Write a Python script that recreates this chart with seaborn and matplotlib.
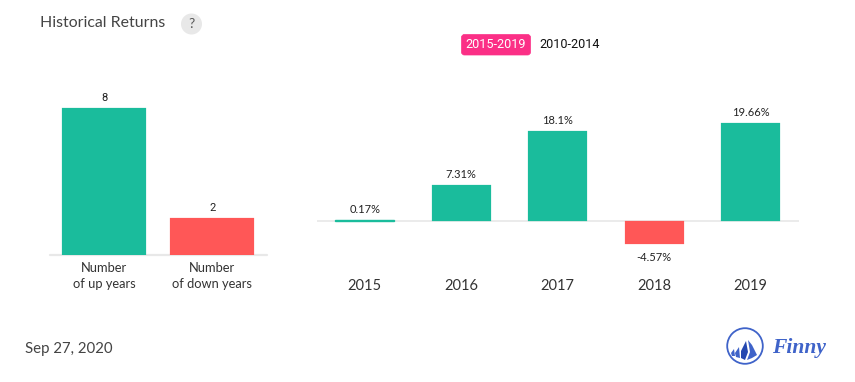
import matplotlib
matplotlib.use("Agg")
import matplotlib.pyplot as plt
import seaborn as sns
import pandas as pd
from matplotlib.patches import Circle, FancyBboxPatch, Polygon

W, H = 855, 382
GREEN = "#1abc9c"
RED = "#ff5757"
updown_labels = ["Number\nof up years", "Number\nof down years"]
updown_values = [8, 2]
years = ["2015", "2016", "2017", "2018", "2019"]
returns = [0.17, 7.31, 18.1, -4.57, 19.66]
return_labels = ["0.17%", "7.31%", "18.1%", "-4.57%", "19.66%"]
title = "Historical Returns"
date_label = "Sep 27, 2020"
brand = "Finny"
range_active = "2015-2019"
range_other = "2010-2014"

sns.set_theme(style="white")
plt.rcParams["font.family"] = ["Lato", "DejaVu Sans"]
fig = plt.figure(figsize=(W / 100, H / 100), dpi=100, facecolor="white")


def px_axes(x0, y0, x1, y1):
    return fig.add_axes([x0 / W, 1 - y1 / H, (x1 - x0) / W, (y1 - y0) / H])


def style(ax):
    ax.set_xlabel("")
    ax.set_ylabel("")
    ax.set_yticks([])
    for s in ["top", "left", "right", "bottom"]:
        ax.spines[s].set_visible(False)
    ax.patch.set_alpha(0)
    ax.tick_params(axis="x", length=0)
    for p in ax.patches:
        p.set_edgecolor(p.get_facecolor())
        p.set_linewidth(0.15)


# Left panel
ax1 = px_axes(50, 95, 266.5, 255)
df1 = pd.DataFrame({"label": updown_labels, "value": updown_values})
sns.barplot(data=df1, x="label", y="value", hue="label", dodge=False, legend=False,
            palette=[GREEN, RED], width=0.778, saturation=1, ax=ax1, zorder=3)
ax1.set_xlim(-0.5, 1.5)
ax1.set_ylim(0, 160 / 18.4)
style(ax1)
ax1.axhline(0, color="#e8e8e8", lw=1.6, zorder=2, clip_on=False)
ax1.tick_params(axis="x", pad=5.3, labelsize=9.3, labelcolor="#333333")
for lab in ax1.get_xticklabels():
    lab.set_linespacing(1.4)
for i, v in enumerate(updown_values):
    ax1.annotate(str(v), (i, v), xytext=(0, 3.6), textcoords="offset points", ha="center",
                 va="bottom", fontsize=8, color="#222222", family=["Roboto", "DejaVu Sans"])

# Right panel
ax2 = px_axes(316.5, 95, 799, 275)
df2 = pd.DataFrame({"year": years, "value": returns})
sns.barplot(data=df2, x="year", y="value", hue="year", dodge=False, legend=False,
            palette=[GREEN if v >= 0 else RED for v in returns], width=0.61,
            saturation=1, ax=ax2, zorder=3)
ax2.set_xlim(-0.5, 4.5)
ax2.set_ylim(-54 / 4.98, 126 / 4.98)
style(ax2)
ax2.patches[0].set_linewidth(1.0)
ax2.axhline(0, color="#e8e8e8", lw=1.2, zorder=2)
ax2.tick_params(axis="x", pad=2.7, labelsize=10.5, labelcolor="#333333")
for i, (v, t) in enumerate(zip(returns, return_labels)):
    off = 3.6 if v >= 0 else -5.6
    ax2.annotate(t, (i, v), xytext=(0, off), textcoords="offset points", ha="center",
                 va="bottom" if v >= 0 else "top", fontsize=8, color="#222222")


# Overlay for header, buttons, footer, logo in pixel coordinates
ov = fig.add_axes([0, 0, 1, 1], zorder=10)
ov.set_xlim(0, W)
ov.set_ylim(H, 0)
ov.axis("off")
ov.text(40, 23, title, fontsize=11.4, color="#444444", va="center", ha="left")
ov.add_patch(Circle((191.5, 24), 10.5, fc="#e8e8e8", ec="none"))
ov.text(191.5, 24, "?", fontsize=10, color="#555555", ha="center", va="center")
ov.add_patch(FancyBboxPatch((461.5, 34.5), 69, 20.5, boxstyle="round,pad=0,rounding_size=3",
                            fc="#fb2f86", ec="#fb2f86", lw=0.5))
ov.text(496, 45, range_active, fontsize=9.1, color="white", ha="center", va="center",
        family=["Roboto", "DejaVu Sans"])
ov.text(570, 45, range_other, fontsize=9.1, color="#111111", ha="center", va="center",
        family=["Roboto", "DejaVu Sans"])
ov.text(25, 349.5, date_label, fontsize=10.8, color="#444444", ha="left", va="center")

LOGO = "#3f63c9"
ov.add_patch(Circle((745, 346), 17.8, fc="white", ec=LOGO, lw=1.3))
ov.add_patch(Polygon([(748, 340), (752, 345), (757, 355), (752, 358), (747, 360), (750, 352)],
                     fc=LOGO, ec="none"))
ov.add_patch(Polygon([(746, 341), (741, 351), (741, 358), (745, 360), (748, 352)],
                     fc="#2447b0", ec="none"))
ov.add_patch(Polygon([(739, 347), (735, 353), (736, 357), (740, 358)], fc=LOGO, ec="none"))
ov.add_patch(Polygon([(734, 349), (731, 353), (732, 356), (735, 356)], fc=LOGO, ec="none"))
ov.text(772, 348, brand, fontsize=15.5, color=LOGO, ha="left", va="center",
        family="Liberation Serif", style="italic", weight="bold")

fig.savefig("out.png", dpi=100, facecolor="white")
